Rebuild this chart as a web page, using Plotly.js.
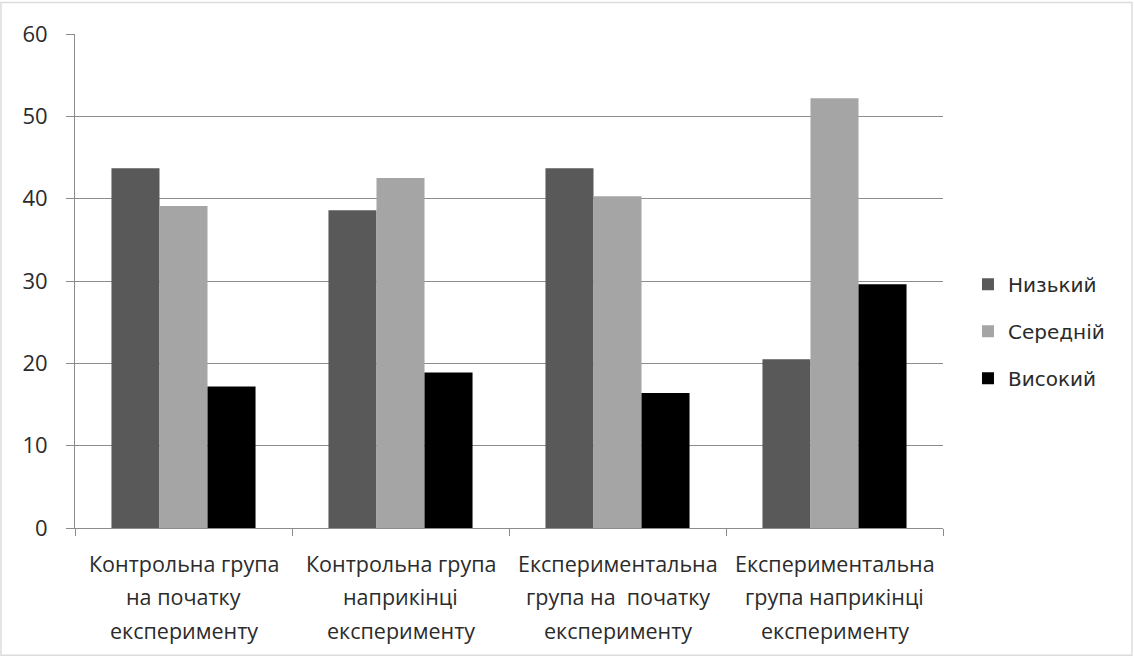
<!DOCTYPE html>
<html>
<head>
<meta charset="utf-8">
<script src="https://cdn.plot.ly/plotly-3.0.1.min.js"></script>
<style>
  html, body { margin: 0; padding: 0; background: #ffffff; }
  #chart { width: 1134px; height: 657px; }
</style>
</head>
<body>
<div id="chart"></div>
<script>
// ---- data ----
const categoryLines = [
  ["Контрольна група", "на початку", "експерименту"],
  ["Контрольна група", "наприкінці", "експерименту"],
  ["Експериментальна", "група на  початку", "експерименту"],
  ["Експериментальна", "група наприкінці", "експерименту"]
];
const categories = categoryLines.map(l => l.join(" "));
const seriesNames = ["Низький", "Середній", "Високий"];
const low    = [43.7, 38.6, 43.7, 20.5];
const medium = [39.1, 42.5, 40.3, 52.2];
const high   = [17.2, 18.9, 16.4, 29.6];
const yTicks = [0, 10, 20, 30, 40, 50, 60];

const colors = ["#595959", "#a5a5a5", "#000000"];
const seriesValues = [low, medium, high];

const traces = seriesValues.map((vals, i) => ({
  type: "bar",
  name: seriesNames[i],
  x: categories,
  y: vals,
  marker: { color: colors[i], line: { width: 0 } },
  legendgroup: "g" + i,
  hoverinfo: "x+y+name"
}));

const gridColor = "#8c8c8c";
const annotations = [];
categoryLines.forEach((lines, ci) => {
  lines.forEach((txt, li) => {
    annotations.push({
      xref: "x", yref: "paper",
      x: categories[ci], y: 0,
      yanchor: "middle", xanchor: "center",
      yshift: -(35 + li * 33.5),
      text: txt, showarrow: false,
      font: { family: "Open Sans, sans-serif", size: 21.5, color: "#2b2b2b" }
    });
  });
});

const layout = {
  width: 1134, height: 657,
  paper_bgcolor: "#ffffff", plot_bgcolor: "#ffffff",
  margin: { l: 75, r: 191, t: 33.5, b: 129.3, pad: 0 },
  barmode: "group",
  bargap: 0.336, bargroupgap: 0,
  showlegend: true,
  legend: {
    xref: "container", yref: "container",
    x: 0.8536, xanchor: "left",
    y: 0.597, yanchor: "top",
    font: { family: "DejaVu Sans, sans-serif", size: 20, color: "#2b2b2b" },
    tracegroupgap: 18,
    bgcolor: "rgba(0,0,0,0)",
    borderwidth: 0,
    itemclick: false
  },
  xaxis: {
    type: "category",
    categoryorder: "array", categoryarray: categories,
    showticklabels: false,
    tickson: "boundaries",
    ticks: "outside", ticklen: 7, tickcolor: gridColor, tickwidth: 1,
    showline: true, linecolor: gridColor, linewidth: 1,
    showgrid: false, zeroline: false,
    fixedrange: true
  },
  yaxis: {
    range: [0, 60],
    tickvals: yTicks,
    ticktext: yTicks.map(String),
    ticks: "outside", ticklen: 8, tickcolor: gridColor, tickwidth: 1,
    ticklabelstandoff: 14,
    tickfont: { family: "Open Sans, sans-serif", size: 22, color: "#2b2b2b" },
    showline: true, linecolor: gridColor, linewidth: 1,
    showgrid: true, gridcolor: gridColor, gridwidth: 1,
    zeroline: false,
    fixedrange: true
  },
  annotations: annotations,
  shapes: [{
    type: "rect", xref: "paper", yref: "paper",
    x0: -0.0853, x1: 1.2177, y0: -0.2576, y1: 1.0638,
    line: { color: "#dcdcdc", width: 1.5 },
    fillcolor: "rgba(0,0,0,0)", layer: "below"
  }]
};

Plotly.newPlot("chart", traces, layout, { displayModeBar: false, staticPlot: true });
</script>
</body>
</html>
